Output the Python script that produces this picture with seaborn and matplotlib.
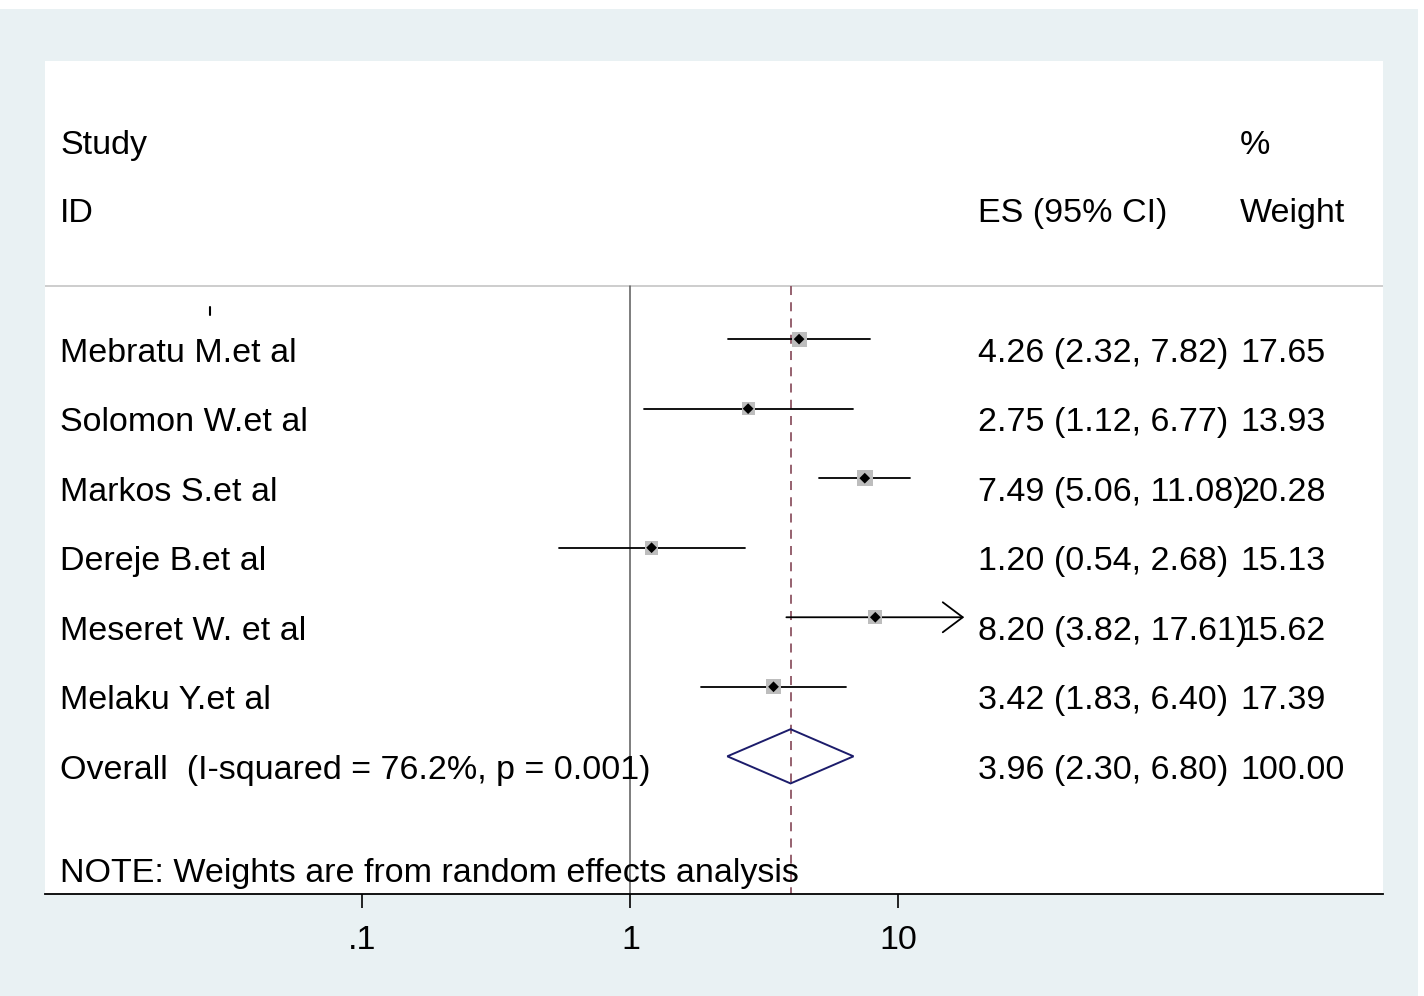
import numpy as np
import pandas as pd
import matplotlib
matplotlib.use("Agg")
import matplotlib.pyplot as plt
import matplotlib.transforms as mtransforms
from matplotlib.patches import Polygon, Rectangle
import seaborn as sns

# study level estimates
studies = ["Mebratu M.et al", "Solomon W.et al", "Markos S.et al",
           "Dereje B.et al", "Meseret W. et al", "Melaku Y.et al"]
es = [4.26, 2.75, 7.49, 1.20, 8.20, 3.42]
lo = [2.32, 1.12, 5.06, 0.54, 3.82, 1.83]
hi = [7.82, 6.77, 11.08, 2.68, 17.61, 6.40]
weight = [17.65, 13.93, 20.28, 15.13, 15.62, 17.39]

overall_label = "Overall  (I-squared = 76.2%, p = 0.001)"
overall_es, overall_lo, overall_hi, overall_w = 3.96, 2.30, 6.80, 100.00
xticks = [0.1, 1, 10]
xtick_labels = [".1", "1", "10"]

df = pd.DataFrame({"Study": studies, "ES": es, "LO": lo, "HI": hi,
                   "Weight": weight, "row": np.arange(len(studies))})

sns.set_theme(style="white")
plt.rcParams["font.family"] = ["Liberation Sans", "DejaVu Sans"]
plt.rcParams["text.color"] = "black"
plt.rcParams["xtick.color"] = "black"
plt.rcParams["xtick.labelcolor"] = "black"

bg = "#E9F1F3"
fig = plt.figure(figsize=(14.24, 9.96), dpi=100, facecolor="white")
fig.patches.append(Rectangle((0, 0), 1418 / 1424, 987 / 996, transform=fig.transFigure,
                             facecolor=bg, edgecolor="none", zorder=-10))
ax = fig.add_axes([45 / 1424, 1 - 894 / 996, 1338 / 1424, 833 / 996])
ax.set_facecolor("white")
ax.set_xscale("log")
ax.set_xlim(10 ** -2.184, 10 ** 2.808)
ax.set_ylim(7.98, -4.0)

fs = 24.5
n = len(studies)
overall_row = n
top_rule = -0.76

# header rule
ax.axhline(top_rule, color="#C9C9C9", lw=1.3, zorder=1)
# null line and overall line
ax.plot([1, 1], [top_rule, 7.98], color="#5A5A5A", lw=1.1, zorder=1)
ax.plot([overall_es, overall_es], [top_rule, 7.98], color="#8E5563", lw=1.3,
        dashes=(5, 4), zorder=1)

# confidence intervals
for _, r in df.iterrows():
    if r["Study"] == "Meseret W. et al":
        ax.annotate("", xy=(r["HI"], r["row"]), xytext=(r["LO"], r["row"]),
                    arrowprops=dict(arrowstyle="->,head_length=1.2,head_width=0.9",
                                    color="black", lw=1.3, shrinkA=0, shrinkB=0),
                    zorder=2)
    else:
        ax.plot([r["LO"], r["HI"]], [r["row"], r["row"]], color="black", lw=1.3, zorder=2)

# weight boxes and point estimates
sns.scatterplot(data=df, x="ES", y="row", size="Weight",
                sizes=(min(weight) * 6.5, max(weight) * 6.5),
                size_norm=(min(weight), max(weight)),
                marker="s", color="#BDBDBD", edgecolor="none",
                legend=False, ax=ax, zorder=3)
sns.scatterplot(data=df, x="ES", y="row", marker="D", s=30, color="black",
                edgecolor="none", legend=False, ax=ax, zorder=4)

# pooled diamond
h = 0.39
diamond = Polygon([(overall_lo, overall_row), (overall_es, overall_row - h),
                   (overall_hi, overall_row), (overall_es, overall_row + h)],
                  closed=True, fill=False, edgecolor="#1C1C6B", lw=1.4, zorder=3)
ax.add_patch(diamond)

# small stray tick under the header
trans_ax_x = mtransforms.blended_transform_factory(ax.transAxes, ax.transData)
ax.plot([165 / 1338, 165 / 1338], [-0.46, -0.34], color="black", lw=1.5, transform=trans_ax_x)

# text columns
col_study = 15 / 1338
col_es = 933 / 1338
col_w = 1195 / 1338
dy = 0.2
ax.text(col_study, -2.79, "Study", transform=trans_ax_x, fontsize=fs, va="center")
ax.text(col_study, -1.80, "ID", transform=trans_ax_x, fontsize=fs, va="center")
ax.text(col_es, -1.80, "ES (95% CI)", transform=trans_ax_x, fontsize=fs, va="center")
ax.text(col_w, -2.79, "%", transform=trans_ax_x, fontsize=fs, va="center")
ax.text(col_w, -1.80, "Weight", transform=trans_ax_x, fontsize=fs, va="center")

for _, r in df.iterrows():
    y = r["row"] + dy
    ax.text(col_study, y, r["Study"], transform=trans_ax_x, fontsize=fs, va="center")
    ax.text(col_es, y, f"{r['ES']:.2f} ({r['LO']:.2f}, {r['HI']:.2f})",
            transform=trans_ax_x, fontsize=fs, va="center")
    ax.text(col_w, y, f"{r['Weight']:.2f}", transform=trans_ax_x, fontsize=fs, va="center")

y = overall_row + dy
ax.text(col_study, y, overall_label, transform=trans_ax_x, fontsize=fs, va="center")
ax.text(col_es, y, f"{overall_es:.2f} ({overall_lo:.2f}, {overall_hi:.2f})",
        transform=trans_ax_x, fontsize=fs, va="center")
ax.text(col_w, y, f"{overall_w:.2f}", transform=trans_ax_x, fontsize=fs, va="center")
ax.text(col_study, 7.69, "NOTE: Weights are from random effects analysis",
        transform=trans_ax_x, fontsize=fs, va="center")

# axis styling
for side in ["top", "left", "right"]:
    ax.spines[side].set_visible(False)
ax.spines["bottom"].set_color("black")
ax.spines["bottom"].set_linewidth(1.3)
ax.set_yticks([])
ax.set_xticks(xticks)
ax.set_xticklabels(xtick_labels)
ax.minorticks_off()
ax.tick_params(axis="x", which="major", bottom=True, length=10, width=1.2,
               color="black", labelcolor="black", labelsize=fs, pad=12)
ax.set_xlabel("")
ax.set_ylabel("")

plt.savefig("out.png", dpi=100, facecolor=fig.get_facecolor())
